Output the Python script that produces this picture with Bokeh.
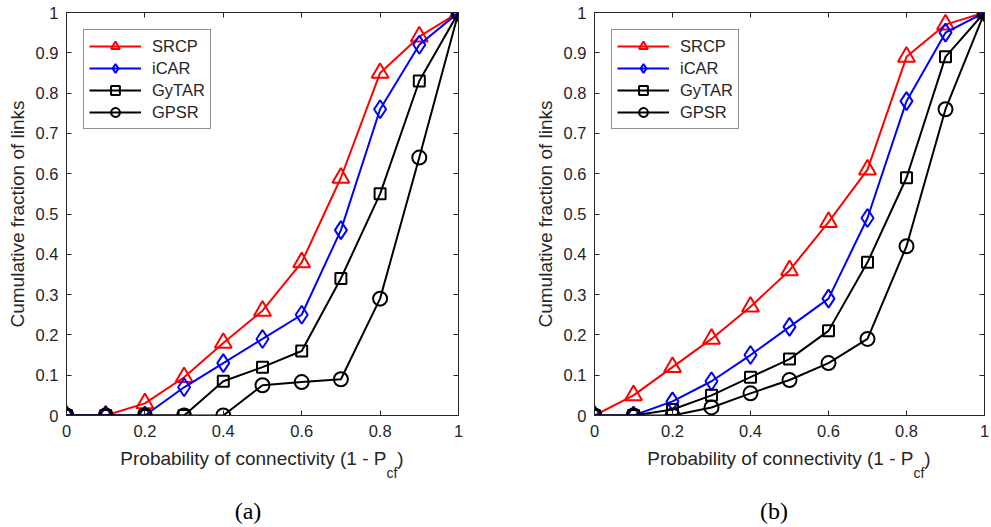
from bokeh.plotting import figure
from bokeh.layouts import row, column
from bokeh.models import (Range1d, FixedTicker, NumeralTickFormatter, LinearAxis,
                          Legend, LegendItem, Div, CustomJSTickFormatter)
from bokeh.embed import file_html
from bokeh.resources import INLINE

x_vals = [0, 0.1, 0.2, 0.3, 0.4, 0.5, 0.6, 0.7, 0.8, 0.9, 1.0]

a_srcp = [0, 0, 0.03, 0.095, 0.18, 0.26, 0.38, 0.59, 0.85, 0.94, 1.0]
a_icar = [0, 0, 0, 0.07, 0.13, 0.19, 0.25, 0.46, 0.76, 0.92, 1.0]
a_gytar = [0, 0, 0, 0, 0.085, 0.12, 0.16, 0.34, 0.55, 0.83, 1.0]
a_gpsr = [0, 0, 0, 0, 0, 0.075, 0.083, 0.09, 0.29, 0.64, 1.0]

b_srcp = [0, 0.05, 0.12, 0.19, 0.27, 0.36, 0.48, 0.61, 0.89, 0.97, 1.0]
b_icar = [0, 0, 0.035, 0.085, 0.15, 0.22, 0.29, 0.49, 0.78, 0.95, 1.0]
b_gytar = [0, 0, 0.015, 0.05, 0.095, 0.14, 0.21, 0.38, 0.59, 0.89, 1.0]
b_gpsr = [0, 0, 0, 0.02, 0.055, 0.088, 0.13, 0.19, 0.42, 0.76, 1.0]

series_names = ["SRCP", "iCAR", "GyTAR", "GPSR"]
x_ticks = [0, 0.2, 0.4, 0.6, 0.8, 1.0]
y_ticks = [0, 0.1, 0.2, 0.3, 0.4, 0.5, 0.6, 0.7, 0.8, 0.9, 1.0]
x_label_main = "Probability of connectivity (1 - P"
x_label_sub = "cf"
y_label = "Cumulative fraction of links"
panel_tags = ["(a)", "(b)"]

TXT = "#262626"
FONT = "Liberation Sans"
styles = [
    ("#FF0000", "triangle", 17),
    ("#0000FF", "diamond", 18),
    ("#000000", "square", 11),
    ("#000000", "circle", 14),
]


def make_panel(series, tag, width, bl, br):
    p = figure(width=width, height=445, output_backend="svg", toolbar_location=None,
               x_range=Range1d(0, 1), y_range=Range1d(0, 1),
               min_border_left=bl, min_border_right=br, min_border_top=12,
               min_border_bottom=30)
    p.grid.visible = False
    p.outline_line_color = TXT
    p.outline_line_width = 1
    p.background_fill_color = "white"
    p.border_fill_color = "white"

    for ax in (p.xaxis[0], p.yaxis[0]):
        ax.major_tick_in = 5
        ax.major_tick_out = 0
        ax.minor_tick_in = 0
        ax.minor_tick_out = 0
        ax.axis_line_color = TXT
        ax.major_tick_line_color = TXT
        ax.major_label_text_color = TXT
        ax.major_label_text_font = FONT
        ax.major_label_text_font_size = "16.5px"
        ax.formatter = NumeralTickFormatter(format="0.[0]")
    p.xaxis[0].ticker = FixedTicker(ticks=x_ticks)
    p.yaxis[0].ticker = FixedTicker(ticks=y_ticks)
    p.xaxis[0].major_label_standoff = 9
    p.yaxis[0].major_label_standoff = 8
    p.yaxis[0].axis_label = y_label
    p.yaxis[0].axis_label_text_font = FONT
    p.yaxis[0].axis_label_text_font_size = "19px"
    p.yaxis[0].axis_label_text_font_style = "normal"
    p.yaxis[0].axis_label_text_color = TXT
    p.yaxis[0].axis_label_standoff = 5

    blank = CustomJSTickFormatter(code="return ''")
    for loc, tks in (("above", x_ticks), ("right", y_ticks)):
        ax = LinearAxis(ticker=FixedTicker(ticks=tks), formatter=blank,
                        major_label_text_color=None,
                        major_tick_in=5, major_tick_out=0, minor_tick_in=0, minor_tick_out=0,
                        axis_line_color=TXT, major_tick_line_color=TXT,
                        major_label_standoff=0)
        p.add_layout(ax, loc)

    items = []
    for name, ys, (col, mk, sz) in zip(series_names, series, styles):
        ln = p.line(x_vals, ys, line_color=col, line_width=2)
        sc = p.scatter(x_vals, ys, marker=mk, size=sz, line_color=col, line_width=2,
                       fill_alpha=0)
        items.append(LegendItem(label=name, renderers=[ln, sc]))

    leg = Legend(items=items, location="top_left", margin=17, padding=5, spacing=0,
                 glyph_width=52, glyph_height=22, label_height=22, label_width=53,
                 label_text_font=FONT, label_text_font_size="16.5px",
                 label_text_color=TXT, label_standoff=11,
                 border_line_color=TXT, border_line_width=1,
                 background_fill_color="white", background_fill_alpha=1)
    p.add_layout(leg, "center")
    return p


def make_xlabel(width, left, frame_w):
    html = (f'<div style="width:{frame_w}px; margin-left:{left}px; text-align:center; '
            f'font-family:\'{FONT}\'; font-size:19px; color:{TXT}; white-space:nowrap;">'
            f'{x_label_main}<span style="font-size:14px; position:relative; top:13px;">'
            f'{x_label_sub}</span>)</div>')
    return Div(text=html, width=width, height=52, margin=0)


def make_tag(width, tag):
    html = (f'<div style="width:496px; text-align:center; font-family:\'Liberation Serif\'; '
            f'font-size:24px; color:#000000; line-height:28px;">{tag}</div>')
    return Div(text=html, width=width, height=28, margin=0)


pa = make_panel([a_srcp, a_icar, a_gytar, a_gpsr], panel_tags[0], 526, 66, 68)
pb = make_panel([b_srcp, b_icar, b_gytar, b_gpsr], panel_tags[1], 465, 68, 7)

col_a = column(pa, make_xlabel(526, 66, 392), make_tag(526, panel_tags[0]), spacing=0)
col_b = column(pb, make_xlabel(465, 68, 390), make_tag(465, panel_tags[1]), spacing=0)

layout = row(col_a, col_b, spacing=0)
open("out.html", "w").write(file_html(layout, INLINE))
